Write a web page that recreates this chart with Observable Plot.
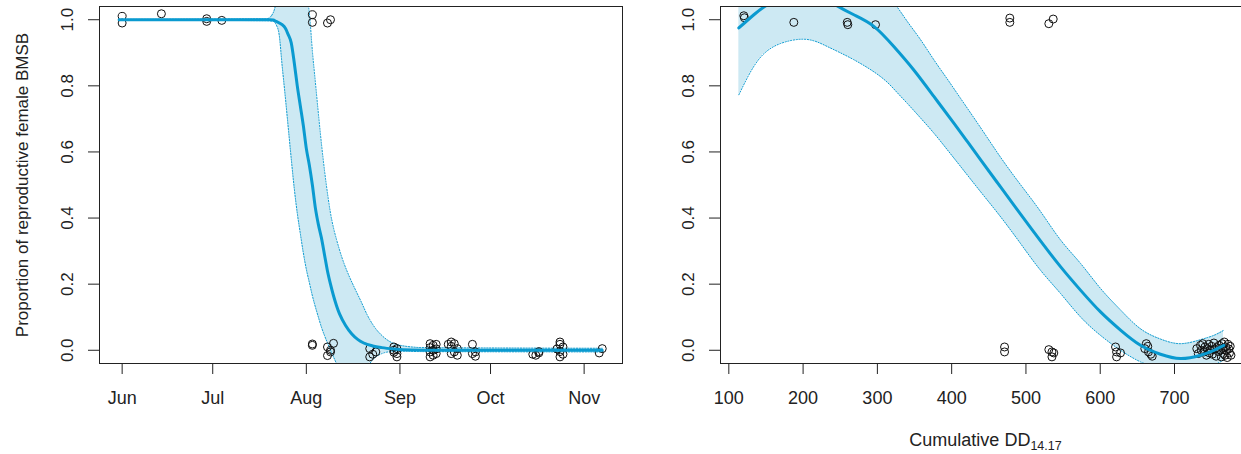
<!DOCTYPE html>
<html><head><meta charset="utf-8">
<script src="https://cdn.jsdelivr.net/npm/d3@7"></script>
<script src="https://cdn.jsdelivr.net/npm/@observablehq/plot@0.6"></script>
<style>
html,body{margin:0;padding:0;background:#fff;overflow:hidden;}
#wrap{position:relative;width:1241px;height:454px;overflow:hidden;background:#fff;}
#left,#right{position:absolute;top:0;width:630px;height:454px;}
#left{left:0;}
#right{left:630px;}
#wrap svg{max-width:none !important;}
</style></head><body>
<div id="wrap"><div id="left"></div><div id="right"></div></div>
<script>
// ---------- tick labels ----------
const monthTicks = ["2016-06-01","2016-07-01","2016-08-01","2016-09-01","2016-10-01","2016-11-01"];
const propTicks = [0, 0.2, 0.4, 0.6, 0.8, 1.0];
const ddTicks = [100, 200, 300, 400, 500, 600, 700];
const yLabel = "Proportion of reproductive female BMSB";
const xLabelRight = "Cumulative DD";
const xLabelRightSub = "14.17";

// ---------- left panel: observations ----------
const leftPointDates = [
  "2016-06-01","2016-06-01","2016-06-14","2016-06-29","2016-06-29","2016-07-04",
  "2016-08-03","2016-08-03","2016-08-08","2016-08-09",
  "2016-08-03","2016-08-03","2016-08-08","2016-08-09","2016-08-10","2016-08-09","2016-08-08",
  "2016-08-22","2016-08-22","2016-08-23","2016-08-24",
  "2016-08-30","2016-08-31","2016-08-30","2016-08-31","2016-08-31","2016-08-30",
  "2016-09-11","2016-09-12","2016-09-11","2016-09-13","2016-09-12","2016-09-11","2016-09-13","2016-09-12","2016-09-11","2016-09-13",
  "2016-09-18","2016-09-19","2016-09-18","2016-09-20","2016-09-19","2016-09-18","2016-09-20","2016-09-17",
  "2016-09-25","2016-09-26","2016-09-26","2016-09-25",
  "2016-10-15","2016-10-16","2016-10-17","2016-10-17",
  "2016-10-24","2016-10-24","2016-10-25","2016-10-23","2016-10-24","2016-10-25","2016-10-24",
  "2016-11-06","2016-11-07"
];
const leftPointProps = [
  1.01, 0.99, 1.018, 1.003, 0.995, 0.998,
  1.015, 0.992, 0.99, 1.0,
  0.015, 0.019, -0.016, 0.0, 0.021, -0.005, 0.01,
  0.005, -0.02, -0.012, -0.005,
  0.01, -0.01, 0.0, -0.02, 0.005, -0.006,
  0.02, 0.015, 0.008, 0.004, 0.0, -0.005, -0.01, -0.015, -0.02, 0.018,
  0.025, 0.02, 0.012, 0.005, -0.005, -0.01, -0.015, 0.018,
  0.018, -0.005, -0.018, -0.01,
  -0.012, -0.015, -0.008, -0.004,
  0.025, 0.018, 0.01, 0.004, -0.004, -0.012, -0.02,
  -0.008, 0.005
];

// ---------- left panel: fitted curve ----------
const leftFitDates = [
  "2016-05-31","2016-07-20","2016-07-21","2016-07-22","2016-07-24","2016-07-25","2016-07-26",
  "2016-07-27","2016-07-28","2016-07-29","2016-07-30","2016-07-31","2016-08-01","2016-08-02",
  "2016-08-03","2016-08-04","2016-08-05","2016-08-06","2016-08-07","2016-08-08","2016-08-09",
  "2016-08-10","2016-08-11","2016-08-12","2016-08-14","2016-08-16","2016-08-18","2016-08-20",
  "2016-08-23","2016-08-26","2016-08-30","2016-09-05","2016-09-15","2016-11-07"
];
const leftFitValues = [
  1.0, 1.0, 0.999, 0.995, 0.985, 0.975, 0.955,
  0.93, 0.87, 0.8, 0.74, 0.68, 0.61, 0.56,
  0.5, 0.43, 0.38, 0.34, 0.29, 0.24, 0.2,
  0.165, 0.135, 0.11, 0.075, 0.05, 0.033, 0.022,
  0.013, 0.008, 0.004, 0.001, 0.0, 0.0
];

// ---------- left panel: confidence band ----------
const leftBandDates = [
  "2016-05-31","2016-07-19","2016-07-21","2016-07-22","2016-07-23","2016-07-24","2016-07-25",
  "2016-07-26","2016-07-27","2016-07-28","2016-07-29","2016-07-30","2016-07-31","2016-08-01",
  "2016-08-02","2016-08-03","2016-08-04","2016-08-05","2016-08-06","2016-08-07","2016-08-08",
  "2016-08-09","2016-08-10","2016-08-11","2016-08-13","2016-08-15","2016-08-17","2016-08-19",
  "2016-08-20","2016-08-21","2016-08-22","2016-08-23","2016-08-24","2016-08-26","2016-08-28",
  "2016-09-01","2016-09-09","2016-11-07"
];
const leftBandLower = [
  0.999, 0.997, 0.995, 0.985, 0.955, 0.86, 0.77,
  0.675, 0.58, 0.49, 0.415, 0.354, 0.295, 0.245,
  0.205, 0.165, 0.131, 0.1, 0.07, 0.045, 0.022,
  0.0, -0.02, -0.04, -0.06, -0.07, -0.07, -0.062,
  -0.055, -0.048, -0.04, -0.028, -0.02, -0.01, -0.005,
  -0.003, -0.004, -0.005
];
const leftBandUpper = [
  1.001, 1.003, 1.02, 1.05, 1.09, 1.12, 1.14,
  1.155, 1.16, 1.16, 1.15, 1.13, 1.10, 1.07,
  1.02, 0.905, 0.81, 0.715, 0.625, 0.545, 0.475,
  0.415, 0.37, 0.335, 0.275, 0.228, 0.188, 0.15,
  0.13, 0.11, 0.093, 0.078, 0.065, 0.045, 0.03,
  0.015, 0.008, 0.006
];

// ---------- right panel: observations ----------
const rightPointDD = [
  120.2, 121, 187.5, 259.4, 260.2, 297.5, 478.3, 478.3, 530.8, 536.7,
  471.2, 471.2, 530.8, 535, 537.5, 535, 620.6, 622, 627.3, 622,
  662, 660, 665, 668, 670, 664,
  730, 732, 735, 736, 738, 740, 741, 743, 744, 746, 747, 748, 750, 751, 753, 754, 756, 757,
  759, 760, 762, 763, 764, 765, 766, 767, 768, 769, 770, 771, 772, 773, 774, 775, 776
];
const rightPointProps = [
  1.012, 1.006, 0.992, 0.992, 0.985, 0.985, 1.005, 0.992, 0.988, 1.002,
  0.01, -0.005, 0.002, -0.005, -0.008, -0.02, 0.01, -0.005, -0.008, -0.02,
  0.02, 0.005, -0.005, -0.012, -0.018, 0.012,
  0.005, -0.01, 0.015, 0.0, 0.02, -0.005, 0.01, -0.015, 0.005, 0.018, -0.008, 0.0, 0.012, -0.012, 0.022, 0.003, -0.018, 0.008,
  -0.004, 0.015, 0.0, -0.02, 0.02, 0.006, -0.01, 0.025, -0.015, 0.01, 0.0, -0.022, 0.018, 0.004, -0.008, 0.012, -0.015
];

// ---------- right panel: fitted curve ----------
const rightFitDD = [
  113.5, 133.7, 151.7, 175, 200, 225, 243.6, 268.3, 295.2, 322.1, 349, 376, 402.9, 420.9,
  438.8, 465.8, 492.7, 519.6, 546.5, 573.4, 600.4, 627.3, 654.2, 681.1, 708, 735, 752.9, 766.4
];
const rightFitValues = [
  0.975, 1.015, 1.045, 1.07, 1.08, 1.068, 1.045, 1.015, 0.98, 0.919, 0.848, 0.768, 0.687, 0.632,
  0.577, 0.494, 0.412, 0.331, 0.253, 0.182, 0.116, 0.061, 0.015, -0.012, -0.025, -0.015, 0.0, 0.015
];

// ---------- right panel: confidence band ----------
const rightBandDD = [
  113.5, 133.7, 160.6, 201, 232.5, 268.3, 304.2, 324.4, 340.2, 358, 376, 394, 412, 438.8,
  465.8, 492.7, 519.6, 546.5, 573.4, 600.4, 627.3, 654.2, 681.1, 708, 735, 752.9, 766
];
const rightBandLower = [
  0.773, 0.859, 0.919, 0.941, 0.919, 0.879, 0.828, 0.785, 0.747, 0.703, 0.657, 0.607, 0.556, 0.48,
  0.404, 0.323, 0.242, 0.172, 0.101, 0.045, 0.0, -0.035, -0.058, -0.07, -0.062, -0.045, -0.03
];
const rightBandUpper = [
  1.177, 1.171, 1.19, 1.219, 1.2, 1.151, 1.09, 1.045, 0.995, 0.94, 0.879, 0.821, 0.762, 0.674,
  0.584, 0.501, 0.42, 0.334, 0.263, 0.187, 0.122, 0.065, 0.034, 0.02, 0.032, 0.045, 0.06
];

// ---------- styling ----------
const FIT = "#0a9ad0";
const BAND = "#cde9f3";
const INK = "#222";
const FONT = "'Liberation Sans', Arial, Helvetica, sans-serif";

// ---------- tables ----------
const parse = s => new Date(s + "T00:00:00Z");
const leftPoints = leftPointDates.map((d, i) => ({x: parse(d), y: leftPointProps[i]}));
const leftFit = leftFitDates.map((d, i) => ({x: parse(d), y: leftFitValues[i]}));
const leftBand = leftBandDates.map((d, i) => ({x: parse(d), lo: leftBandLower[i], hi: leftBandUpper[i]}));
const rightPoints = rightPointDD.map((d, i) => ({x: d, y: rightPointProps[i]}));
const rightFit = rightFitDD.map((d, i) => ({x: d, y: rightFitValues[i]}));
const rightBand = rightBandDD.map((d, i) => ({x: d, lo: rightBandLower[i], hi: rightBandUpper[i]}));

function panelMarks(band, fit, points, curve) {
  return [
    Plot.areaY(band, {x: "x", y1: "lo", y2: "hi", fill: BAND, curve, clip: true}),
    Plot.line(band, {x: "x", y: "hi", stroke: FIT, strokeWidth: 1, strokeDasharray: "1.2,1.6", curve, clip: true}),
    Plot.line(band, {x: "x", y: "lo", stroke: FIT, strokeWidth: 1, strokeDasharray: "1.2,1.6", curve, clip: true}),
    Plot.dot(points, {x: "x", y: "y", r: 4, stroke: "#111", strokeWidth: 1, fill: "none", clip: true}),
    Plot.line(fit, {x: "x", y: "y", stroke: FIT, strokeWidth: 3, curve, clip: true}),
    Plot.frame({stroke: INK, strokeWidth: 1})
  ];
}

const yAxisOpts = {
  ticks: propTicks, tickFormat: d3.format(".1f"), tickSize: 11, tickPadding: 16,
  tickRotate: -90, fontSize: 17
};

const left = Plot.plot({
  width: 630, height: 454,
  marginLeft: 99, marginRight: 8, marginTop: 6, marginBottom: 91,
  style: {fontFamily: FONT, fontSize: "18px", background: "transparent", color: INK, overflow: "visible", maxWidth: "none"},
  x: {type: "utc", domain: [new Date(Date.UTC(2016, 4, 24, 12)), new Date(Date.UTC(2016, 10, 13, 17))]},
  y: {domain: [-0.04, 1.04]},
  marks: [
    ...panelMarks(leftBand, leftFit, leftPoints, "monotone-x"),
    Plot.axisX({ticks: monthTicks.map(parse), tickFormat: d3.utcFormat("%b"), tickSize: 11, tickPadding: 17, fontSize: 18, label: null}),
    Plot.axisY({...yAxisOpts, label: yLabel, labelAnchor: "center", labelOffset: 84, labelArrow: "none"})
  ]
});
document.getElementById("left").appendChild(left);

const right = Plot.plot({
  width: 630, height: 454,
  marginLeft: 90, marginRight: 10, marginTop: 6, marginBottom: 91,
  style: {fontFamily: FONT, fontSize: "18px", background: "transparent", color: INK, maxWidth: "none"},
  x: {domain: [88.8, 802.3]},
  y: {domain: [-0.04, 1.04]},
  marks: [
    ...panelMarks(rightBand, rightFit, rightPoints, "natural"),
    Plot.axisX({ticks: ddTicks, tickFormat: d3.format("d"), tickSize: 11, tickPadding: 17, fontSize: 18,
      label: xLabelRight, labelAnchor: "center", labelOffset: 82, labelArrow: "none"}),
    Plot.axisY({...yAxisOpts, label: null})
  ]
});
document.getElementById("right").appendChild(right);

// subscript on the right x-axis title
const lab = d3.select(right).select('g[aria-label="x-axis label"] text');
if (!lab.empty()) {
  lab.append("tspan").attr("dy", "4").attr("font-size", "12.5px").text(xLabelRightSub);
}
</script>
</body></html>
